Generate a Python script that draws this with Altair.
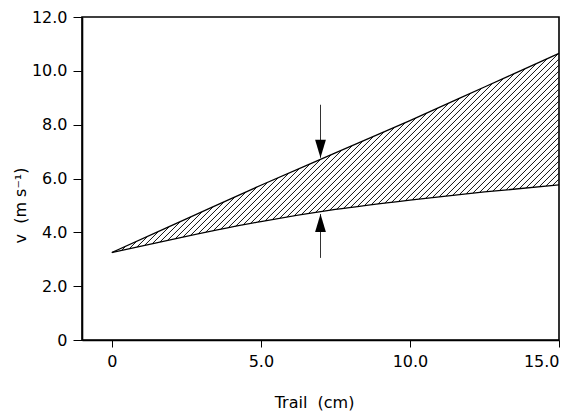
import altair as alt
import pandas as pd
import numpy as np

# ---- data ----
trail = [0.0, 2.5, 5.0, 7.5, 10.0, 12.5, 15.0]
v_upper = [3.25, 4.5, 5.75, 6.95, 8.15, 9.4, 10.65]
v_lower = [3.25, 3.85, 4.4, 4.85, 5.2, 5.5, 5.76]

x_ticks = [0, 5, 10, 15]
y_ticks = [0, 2, 4, 6, 8, 10, 12]

arrow_x = 7.0
arrow_top = [8.74, 6.77]      # shaft start, tip (pointing down)
arrow_bottom = [3.05, 4.68]   # shaft start, tip (pointing up)

W, H = 477, 323
X_DOM = [-1, 15]
Y_DOM = [0, 12]

# ---- hatch segments derived from the two curves ----
sx = W / (X_DOM[1] - X_DOM[0])
sy = H / (Y_DOM[1] - Y_DOM[0])
ratio = sx / sy                 # 45 degree line in pixel space
spacing = 6.0 / sy              # vertical spacing of hatch lines
xs = np.linspace(trail[0], trail[-1], 3001)
up = np.interp(xs, trail, v_upper)
lo = np.interp(xs, trail, v_lower)
segs = []
c = v_lower[-1] - ratio * trail[-1]
while c < v_upper[0]:
    line = ratio * xs + c
    inside = np.where((line >= lo) & (line <= up))[0]
    if len(inside) > 1:
        i0, i1 = inside[0], inside[-1]
        segs.append({"x": xs[i0], "y": line[i0], "x2": xs[i1], "y2": line[i1]})
    c += spacing
hatch = pd.DataFrame(segs)

curves = pd.DataFrame({
    "trail": trail * 2,
    "v": v_upper + v_lower,
    "curve": ["upper"] * len(trail) + ["lower"] * len(trail),
})

shafts = pd.DataFrame({
    "x": [arrow_x, arrow_x],
    "y": [arrow_top[0], arrow_bottom[0]],
    "y2": [arrow_top[1], arrow_bottom[1]],
})
heads = pd.DataFrame({
    "x": [arrow_x, arrow_x],
    "y": [arrow_top[1], arrow_bottom[1]],
    "dir": ["down", "up"],
})

FONT = "DejaVu Sans"
NB = "\u00a0"
lab = "datum.value == 0 ? '0' : format(datum.value, '.1f')"

xs_scale = alt.Scale(domain=X_DOM, nice=False, zero=False)
ys_scale = alt.Scale(domain=Y_DOM, nice=False)

x_axis = alt.Axis(values=x_ticks, labelExpr=lab, title="Trail" + NB * 2 + "(cm)", tickSize=7,
                  labelPadding=6, titleX=232, titleY=62, titleBaseline="middle",
                  titleAlign="center")
y_axis = alt.Axis(values=y_ticks, labelExpr=lab, title="v" + NB * 2 + "(m" + NB + "s⁻¹)", tickSize=9,
                  labelPadding=6, titleX=-62, titleY=188, titleAngle=-90,
                  titleBaseline="middle", titleAlign="center")

hatch_layer = alt.Chart(hatch).mark_rule(color="#111111", strokeWidth=1.0).encode(
    x=alt.X("x:Q", scale=xs_scale, axis=x_axis),
    y=alt.Y("y:Q", scale=ys_scale, axis=y_axis),
    x2="x2:Q",
    y2="y2:Q",
)

line_layer = alt.Chart(curves).mark_line(color="black", strokeWidth=1.3, interpolate="monotone").encode(
    x=alt.X("trail:Q", scale=xs_scale),
    y=alt.Y("v:Q", scale=ys_scale),
    detail="curve:N",
)

shaft_layer = alt.Chart(shafts).mark_rule(color="#333333", strokeWidth=1).encode(
    x=alt.X("x:Q", scale=xs_scale),
    y=alt.Y("y:Q", scale=ys_scale),
    y2="y2:Q",
)

down_head = alt.Chart(heads).transform_filter("datum.dir == 'down'").mark_point(
    shape="M-0.6,-2L0.6,-2L0,0Z", size=324, filled=True, color="black", opacity=1
).encode(x=alt.X("x:Q", scale=xs_scale), y=alt.Y("y:Q", scale=ys_scale))

up_head = alt.Chart(heads).transform_filter("datum.dir == 'up'").mark_point(
    shape="M-0.6,2L0.6,2L0,0Z", size=324, filled=True, color="black", opacity=1
).encode(x=alt.X("x:Q", scale=xs_scale), y=alt.Y("y:Q", scale=ys_scale))

chart = alt.layer(hatch_layer, line_layer, shaft_layer, down_head, up_head).properties(
    width=W, height=H,
    autosize=alt.AutoSizeParams(type="none"),
    padding={"left": 74, "top": 9, "right": 10, "bottom": 72},
    background="white",
).configure_view(
    stroke="black", strokeWidth=1.6
).configure_axis(
    domainColor="black", domainWidth=1.6, tickColor="black", tickWidth=1,
    labelColor="black", labelFont=FONT, labelFontSize=16,
    titleColor="black", titleFont=FONT, titleFontSize=16, titleFontWeight="normal",
    grid=False,
)

chart.save("out.html", embed_options={"renderer": "svg", "actions": False})
